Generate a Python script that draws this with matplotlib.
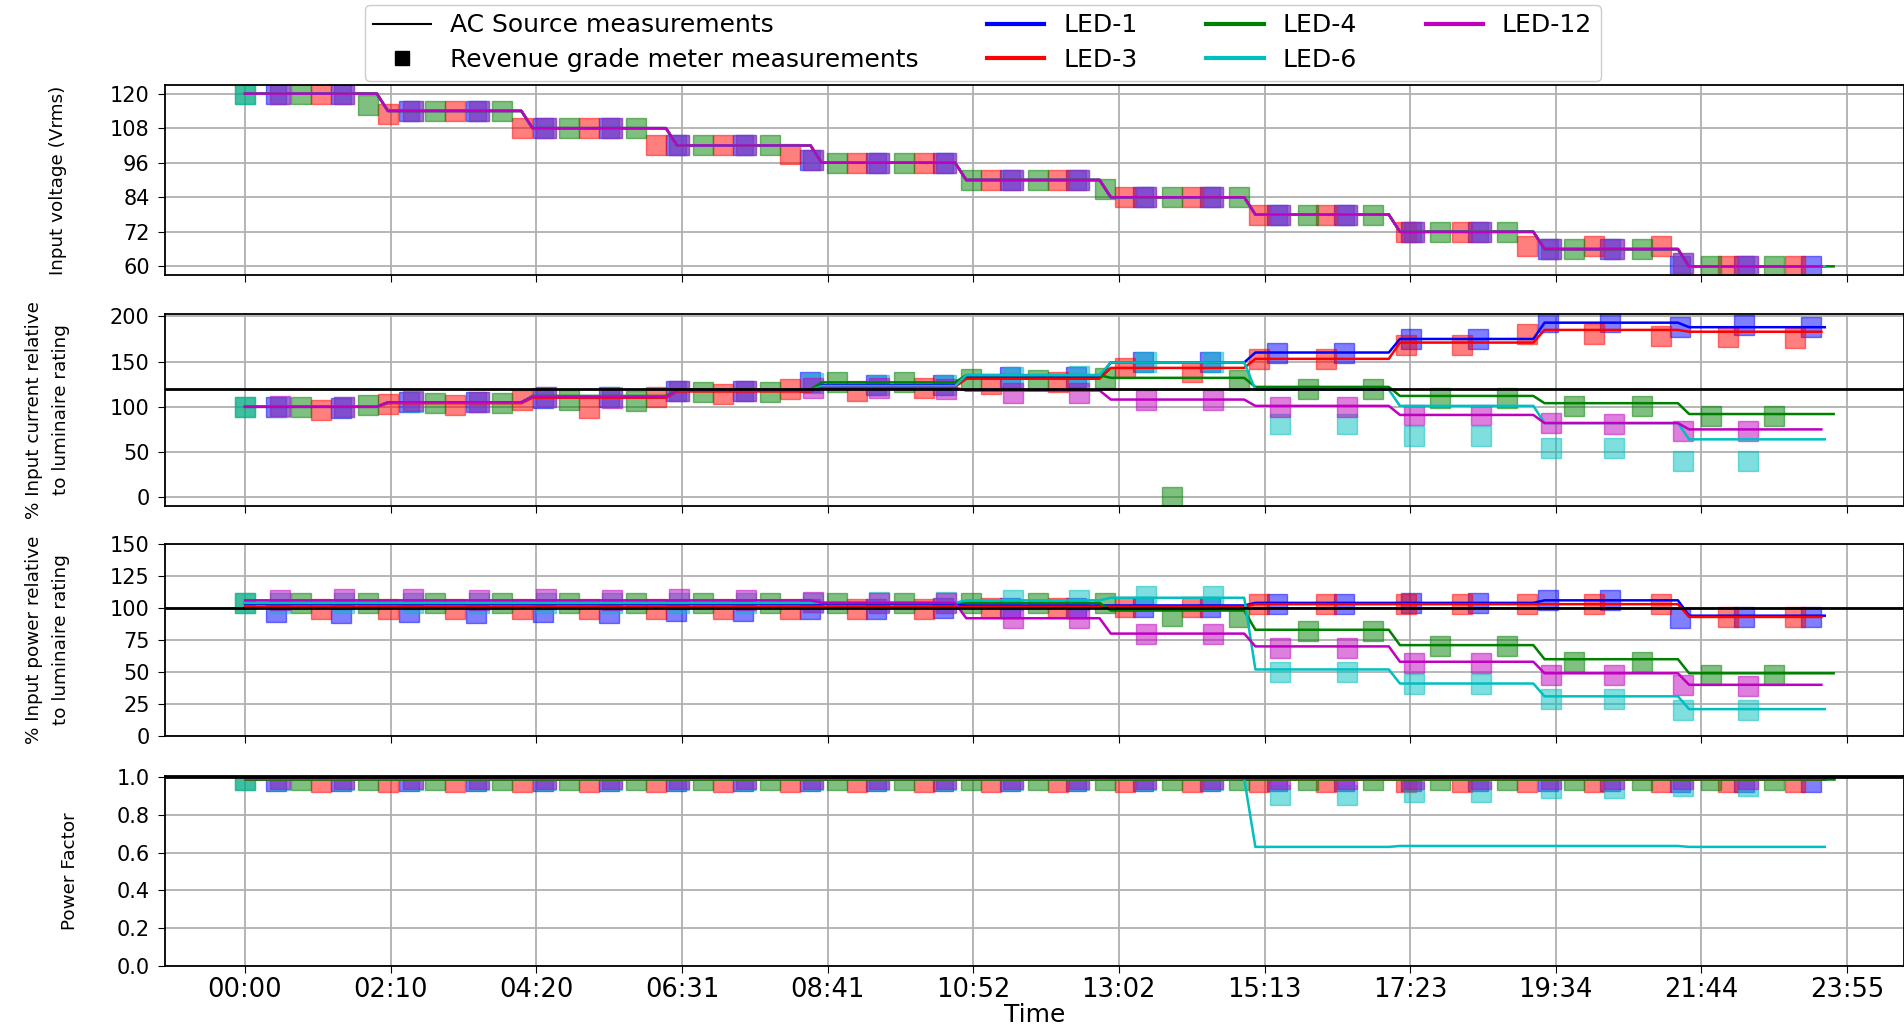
import matplotlib
matplotlib.use("Agg")
import matplotlib.pyplot as plt
from matplotlib.lines import Line2D

# ---------------- data ----------------
tick_minutes = [0, 130.45, 260.9, 391.4, 521.8, 652.3, 782.7, 913.2, 1043.6, 1174.1, 1304.5, 1435]
tick_labels = ["00:00", "02:10", "04:20", "06:31", "08:41", "10:52",
               "13:02", "15:13", "17:23", "19:34", "21:44", "23:55"]

led_names = ["LED-1", "LED-3", "LED-4", "LED-6", "LED-12"]
led_colors = ["b", "r", "g", "c", "m"]

# step segments of the AC source (minutes)
seg_start = [0, 128, 257.5, 387, 516.5, 646, 775.5, 905, 1034.5, 1164, 1293.5]
seg_end = [118, 247.5, 377, 506.5, 636, 765.5, 895, 1024.5, 1154, 1283.5, 1412]
line_last_end = [1415, 1412, 1423, 1415, 1412]

volt_levels = [120, 114, 108, 102, 96, 90, 84, 78, 72, 66, 60]
current_ref = 120
power_ref = 100
pf_ref = 1.0

# line levels (per voltage step) for each LED
cur_led1 = [100, 105, 111, 118, 124, 133, 149, 160, 175, 193, 188]
cur_led3 = [100, 104, 110, 117, 122, 131, 143, 153, 171, 185, 183]
cur_led4 = [100, 105, 112, 119, 127, 135, 132, 122, 112, 104, 92]
cur_led6 = [100, 105, 111, 118, 123, 135, 149, 119, 101, 82, 64]
cur_led12 = [100, 105, 111, 118, 121, 118, 108, 101, 91, 82, 75]

pow_led1 = [103, 103, 103, 103, 103, 102, 102, 104, 104, 106, 94]
pow_led3 = [101, 101, 101, 101, 101, 101, 101, 103, 103, 103, 93]
pow_led4 = [104, 104, 104, 104, 104, 104, 98, 83, 71, 60, 49]
pow_led6 = [104, 104, 104, 104, 104, 106, 108, 52, 41, 31, 21]
pow_led12 = [106, 106, 106, 106, 104, 92, 80, 70, 58, 49, 40]

pf_led1 = [0.99, 0.99, 0.99, 0.99, 0.99, 0.99, 0.99, 0.99, 0.99, 0.99, 0.99]
pf_led3 = [0.99, 0.99, 0.99, 0.99, 0.99, 0.99, 0.99, 0.99, 0.99, 0.99, 0.99]
pf_led4 = [0.99, 0.99, 0.99, 0.99, 0.99, 0.99, 0.99, 0.99, 0.99, 0.99, 0.99]
pf_led6 = [0.99, 0.99, 0.99, 0.99, 0.99, 0.99, 0.99, 0.63, 0.635, 0.635, 0.63]
pf_led12 = [0.995, 0.995, 0.995, 0.995, 0.995, 0.995, 0.995, 0.995, 0.995, 0.995, 0.995]

# revenue grade meter measurements (markers)
mt_led1 = [28, 86, 147, 207, 267, 326, 386, 446, 506, 565, 625, 685, 744, 804, 864, 924, 984, 1044, 1104, 1167, 1223, 1285, 1343, 1403]
mv_led1 = [120, 120, 114, 114, 108, 108, 102, 102, 97, 96, 96, 90, 90, 84, 84, 78, 78, 72, 72, 66, 66, 60, 60, 60]
mi_led1 = [100, 99, 105, 105, 110, 111, 118, 118, 127, 124, 124, 133, 133, 149, 149, 160, 160, 175, 175, 194, 194, 188, 190, 188]
mp_led1 = [97, 96, 97, 96, 97, 96, 98, 98, 99, 99, 100, 100, 100, 101, 101, 103, 103, 104, 104, 106, 106, 92, 93, 93]
mf_led1 = [0.98, 0.98, 0.98, 0.98, 0.98, 0.98, 0.98, 0.98, 0.98, 0.98, 0.98, 0.98, 0.98, 0.98, 0.98, 0.98, 0.98, 0.98, 0.98, 0.98, 0.98, 0.975, 0.975, 0.975]

mt_led3 = [68, 128, 188, 248, 308, 368, 428, 488, 548, 608, 668, 728, 788, 848, 908, 968, 1040, 1090, 1148, 1208, 1268, 1328, 1388]
mv_led3 = [120, 113, 114, 108, 108, 102, 102, 99, 96, 96, 90, 90, 84, 84, 78, 78, 72, 72, 67, 67, 67, 60, 60]
mi_led3 = [96, 103, 102, 108, 99, 111, 114, 120, 118, 121, 125, 127, 143, 138, 153, 153, 168, 168, 180, 180, 178, 177, 176]
mp_led3 = [99, 99, 99, 99, 99, 99, 99, 99, 99, 99, 100, 100, 101, 101, 103, 103, 103, 103, 103, 103, 103, 93, 93]
mf_led3 = [0.975, 0.975, 0.975, 0.975, 0.975, 0.975, 0.975, 0.975, 0.975, 0.975, 0.975, 0.975, 0.975, 0.975, 0.975, 0.975, 0.975, 0.975, 0.975, 0.975, 0.975, 0.975, 0.975]

mt_led4 = [0, 50, 110, 170, 230, 290, 350, 410, 470, 530, 590, 650, 710, 770, 830, 890, 952, 1010, 1070, 1130, 1190, 1251, 1313, 1370]
mv_led4 = [120, 120, 116, 114, 114, 108, 108, 102, 102, 96, 96, 90, 90, 87, 84, 84, 78, 78, 72, 72, 66, 66, 60, 60]
mi_led4 = [100, 100, 102, 104, 104, 108, 106, 116, 116, 127, 127, 131, 130, 132, 0, 130, 120, 120, 110, 110, 101, 101, 90, 90]
mp_led4 = [104, 104, 104, 104, 104, 104, 104, 104, 104, 104, 104, 104, 104, 104, 94, 93, 82, 82, 70, 70, 58, 58, 48, 48]
mf_led4 = [0.985, 0.985, 0.985, 0.985, 0.985, 0.985, 0.985, 0.985, 0.985, 0.985, 0.985, 0.985, 0.985, 0.985, 0.985, 0.985, 0.985, 0.985, 0.985, 0.985, 0.985, 0.985, 0.985, 0.985]

mt_led6 = [0, 31, 89, 150, 210, 270, 329, 389, 449, 509, 568, 628, 688, 747, 807, 867, 927, 987, 1047, 1107, 1170, 1226, 1288, 1346]
mv_led6 = [120, 120, 120, 114, 114, 108, 108, 102, 102, 97, 96, 96, 90, 90, 84, 84, 78, 78, 72, 72, 66, 66, 61, 60]
mi_led6 = [100, 100, 100, 105, 105, 111, 111, 118, 118, 126, 124, 124, 133, 134, 149, 149, 81, 81, 68, 68, 54, 54, 40, 40]
mp_led6 = [104, 104, 104, 104, 104, 104, 104, 104, 104, 104, 105, 105, 106, 106, 109, 109, 50, 50, 41, 41, 29, 29, 20, 20]
mf_led6 = [0.985, 0.985, 0.985, 0.985, 0.985, 0.985, 0.985, 0.985, 0.985, 0.985, 0.985, 0.985, 0.985, 0.985, 0.985, 0.985, 0.905, 0.905, 0.92, 0.92, 0.94, 0.94, 0.95, 0.95]

mt_led12 = [31, 89, 150, 210, 270, 329, 389, 449, 509, 568, 628, 688, 747, 807, 867, 927, 987, 1047, 1107, 1170, 1226, 1288, 1346]
mv_led12 = [120, 120, 114, 114, 108, 108, 102, 102, 97, 96, 96, 90, 90, 84, 84, 78, 78, 72, 72, 66, 66, 61, 60]
mi_led12 = [101, 100, 106, 105, 111, 110, 118, 117, 121, 121, 120, 115, 115, 108, 108, 100, 100, 91, 91, 82, 81, 73, 73]
mp_led12 = [106, 107, 107, 106, 107, 106, 107, 106, 105, 104, 104, 92, 92, 80, 80, 69, 69, 57, 57, 48, 48, 40, 39]
mf_led12 = [0.99, 0.99, 0.99, 0.99, 0.99, 0.99, 0.99, 0.99, 0.99, 0.99, 0.99, 0.99, 0.99, 0.99, 0.99, 0.99, 0.99, 0.99, 0.99, 0.99, 0.99, 0.99, 0.99]

# ---------------- assemble ----------------
cur_lines = [cur_led1, cur_led3, cur_led4, cur_led6, cur_led12]
pow_lines = [pow_led1, pow_led3, pow_led4, pow_led6, pow_led12]
pf_lines = [pf_led1, pf_led3, pf_led4, pf_led6, pf_led12]
m_t = [mt_led1, mt_led3, mt_led4, mt_led6, mt_led12]
m_v = [mv_led1, mv_led3, mv_led4, mv_led6, mv_led12]
m_i = [mi_led1, mi_led3, mi_led4, mi_led6, mi_led12]
m_p = [mp_led1, mp_led3, mp_led4, mp_led6, mp_led12]
m_f = [mf_led1, mf_led3, mf_led4, mf_led6, mf_led12]


def step_xy(levels, last_end):
    xs, ys = [], []
    for k, lv in enumerate(levels):
        e = seg_end[k] if k < len(levels) - 1 else last_end
        xs += [seg_start[k], e]
        ys += [lv, lv]
    return xs, ys


W, H = 1904, 1029
fig = plt.figure(figsize=(W / 100, H / 100), dpi=100)
left_px = 165
tops = [85, 314, 544, 776]
bots = [275, 506, 736, 966]
axes = []
for t, b in zip(tops, bots):
    ax = fig.add_axes([left_px / W, 1 - b / H, 1 - left_px / W, (b - t) / H])
    axes.append(ax)

ax1, ax2, ax3, ax4 = axes

line_sets = [[volt_levels] * 5, cur_lines, pow_lines, pf_lines]
mark_sets = [m_v, m_i, m_p, m_f]

# AC source
xs, ys = step_xy(volt_levels, 1412)
ax1.plot(xs, ys, color="k", lw=1.5, zorder=2)
ax2.axhline(current_ref, color="k", lw=2, zorder=4)
ax3.axhline(power_ref, color="k", lw=2, zorder=4)
ax4.axhline(pf_ref, color="k", lw=2, zorder=4)

for ax, lines, marks in zip(axes, line_sets, mark_sets):
    for j in range(5):
        ax.plot(m_t[j], marks[j], linestyle="none", marker="s", ms=15,
                color=led_colors[j], alpha=0.5, zorder=2)
    for j in range(5):
        xs, ys = step_xy(lines[j], line_last_end[j])
        ax.plot(xs, ys, color=led_colors[j], lw=1.8, zorder=3)

ylims = [(57, 123), (-9.7, 202.6), (0, 150), (0, 1.005)]
yticks = [[60, 72, 84, 96, 108, 120], [0, 50, 100, 150, 200],
          [0, 25, 50, 75, 100, 125, 150], [0.0, 0.2, 0.4, 0.6, 0.8, 1.0]]
ylabels = ["Input voltage (Vrms)",
           "% Input current relative\nto luminaire rating",
           "% Input power relative\nto luminaire rating",
           "Power Factor"]
ylabel_pads = [31, 29, 29, 27]

for i, ax in enumerate(axes):
    ax.set_xlim(-71.7, 1486)
    ax.set_ylim(*ylims[i])
    ax.set_yticks(yticks[i])
    ax.set_xticks(tick_minutes)
    if i == 3:
        ax.set_xticklabels(tick_labels, fontsize=18.5)
    else:
        ax.set_xticklabels([])
    ax.tick_params(axis="y", labelsize=15, pad=6, length=5)
    ax.tick_params(axis="x", pad=3, length=5)
    ax.grid(True, color="#b0b0b0", lw=1.3)
    ax.set_axisbelow(True)
    ax.set_ylabel(ylabels[i], fontsize=13.2, labelpad=ylabel_pads[i],
                  linespacing=1.6)
    for sp in ax.spines.values():
        sp.set_linewidth(1.3)

ax4.set_yticklabels(["0.0", "0.2", "0.4", "0.6", "0.8", "1.0"])
ax4.set_xlabel("Time", fontsize=18, labelpad=0)

# legend
handles = [Line2D([], [], color="k", lw=1.5),
           Line2D([], [], color="k", marker="s", linestyle="none", ms=10)]
labels = ["AC Source measurements", "Revenue grade meter measurements"]
for n, c in zip(led_names, led_colors):
    handles.append(Line2D([], [], color=c, lw=3))
    labels.append(n)
fig.legend(handles, labels, ncol=4, loc="upper left",
           bbox_to_anchor=(352 / W, 1 + 8 / H), fontsize=18,
           handlelength=2.3, handletextpad=0.75, columnspacing=2.75,
           labelspacing=0.42, borderpad=0.35, framealpha=1.0,
           edgecolor="#cccccc")

fig.savefig("out.png", dpi=100)
